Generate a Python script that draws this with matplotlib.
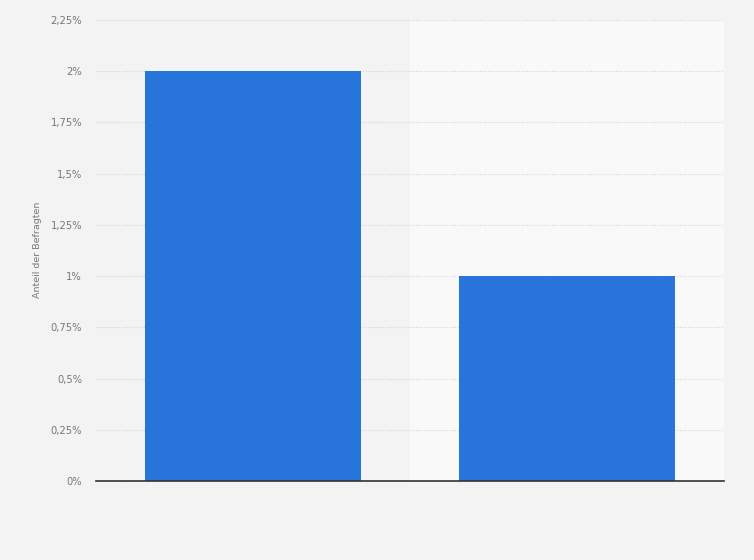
import matplotlib
matplotlib.use("Agg")
import matplotlib.pyplot as plt
from matplotlib.ticker import FuncFormatter, MultipleLocator

categories = ["", ""]
values = [2.0, 1.0]
y_label = "Anteil der Befragten"

fig = plt.figure(figsize=(7.54, 5.6), dpi=100)
fig.patch.set_facecolor("#f3f3f3")
W, H = 754, 560
ax = fig.add_axes([96 / W, 1 - 481 / H, (724 - 96) / W, (481 - 20) / H])
ax.set_facecolor("#f3f3f3")

x = list(range(len(categories)))
ax.set_xlim(-0.5, len(categories) - 0.5)
ax.set_ylim(0, 2.25)

# alternating band
for i in x:
    if i % 2 == 1:
        ax.axvspan(i - 0.5, i + 0.5, color="#f9f9f9", zorder=0, lw=0)

ax.yaxis.set_major_locator(MultipleLocator(0.25))
def fmt(v, pos):
    s = ("%.2f" % v).rstrip("0").rstrip(".")
    return s.replace(".", ",") + "%"
ax.yaxis.set_major_formatter(FuncFormatter(fmt))
ax.grid(axis="y", color="#d4d4d4", linestyle=(0, (1, 1.5)), linewidth=0.8, zorder=1)
ax.set_axisbelow(True)

ax.bar(x, values, width=0.685, color="#2775db", zorder=3)

ax.set_xticks(x)
ax.set_xticklabels(categories)
ax.tick_params(axis="x", length=0)
ax.tick_params(axis="y", length=0, pad=10, labelsize=7.2, labelcolor="#777777")
for s in ["top", "right", "left"]:
    ax.spines[s].set_visible(False)
ax.spines["bottom"].set_color("#333333")
ax.spines["bottom"].set_linewidth(1.2)
ax.spines["bottom"].set_zorder(4)

ax.set_ylabel(y_label, fontsize=6.8, color="#777777")
ax.yaxis.set_label_coords((42 - 96) / 628, (481 - 250) / 461)

fig.savefig("out.png", dpi=100, facecolor=fig.get_facecolor())
